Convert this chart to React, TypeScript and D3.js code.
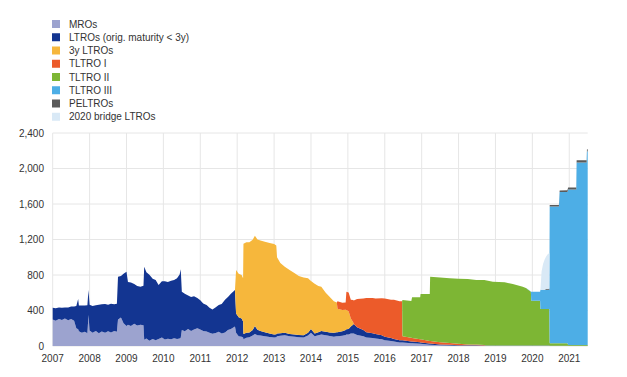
import React from 'react';
import * as d3 from 'd3';

const W = 627;
const H = 377;

const yearTicks = [2007, 2008, 2009, 2010, 2011, 2012, 2013, 2014, 2015, 2016, 2017, 2018, 2019, 2020, 2021];
const yTicks = [0, 400, 800, 1200, 1600, 2000, 2400];

// Segment dates (decimal years)
const datesA = [
  2007.00, 2007.08, 2007.17, 2007.25, 2007.33, 2007.42, 2007.50, 2007.58, 2007.64, 2007.69,
  2007.71, 2007.79, 2007.87, 2007.94, 2007.97, 2008.00, 2008.08, 2008.17, 2008.25, 2008.33,
  2008.42, 2008.50, 2008.58, 2008.67, 2008.74, 2008.77, 2008.85, 2008.92, 2009.00, 2009.04,
  2009.12, 2009.21, 2009.29, 2009.38, 2009.46, 2009.48, 2009.54, 2009.62, 2009.71, 2009.79,
  2009.87, 2009.96, 2010.04, 2010.12, 2010.21, 2010.29, 2010.37, 2010.44, 2010.47, 2010.50,
  2010.58, 2010.67, 2010.75, 2010.83, 2010.92, 2011.00, 2011.08, 2011.17, 2011.25, 2011.33,
  2011.42, 2011.50, 2011.58, 2011.67, 2011.75, 2011.83, 2011.94,
];
const datesB = [
  2011.97, 2012.04, 2012.12, 2012.16, 2012.17, 2012.25, 2012.33, 2012.42, 2012.48, 2012.55,
  2012.63, 2012.75, 2012.88, 2013.00, 2013.06, 2013.08, 2013.17, 2013.29, 2013.42, 2013.56,
  2013.67, 2013.80, 2013.92, 2014.00, 2014.10, 2014.20, 2014.28, 2014.40, 2014.51, 2014.62,
  2014.70,
];
const datesC = [
  2014.72, 2014.85, 2014.94, 2014.96, 2015.02, 2015.08, 2015.14, 2015.16, 2015.25, 2015.42,
  2015.50, 2015.67, 2015.75, 2015.92, 2016.00, 2016.17, 2016.25, 2016.40, 2016.47,
];
const datesD = [
  2016.48, 2016.72, 2016.74, 2016.96, 2016.97, 2017.22, 2017.23, 2017.50, 2017.76, 2018.00,
  2018.25, 2018.48, 2018.70, 2018.73, 2018.93, 2019.25, 2019.47, 2019.74, 2019.84,
];
const datesE = [
  2019.85, 2019.96, 2019.97, 2020.21, 2020.22, 2020.25, 2020.29, 2020.33, 2020.37, 2020.41,
  2020.46, 2020.47, 2020.72, 2020.74, 2020.95, 2020.97, 2021.19, 2021.20, 2021.47, 2021.48,
  2021.50,
];

// EUR billions
const mro = [
  // A
  300, 285, 305, 292, 310, 290, 305, 285, 200, 190,
  165, 150, 160, 145, 350, 175, 150, 168, 145, 162,
  150, 166, 152, 170, 160, 300, 320, 255, 225, 240,
  225, 250, 232, 240, 235, 70, 85, 60, 78, 65,
  80, 95, 72, 82, 75, 88, 78, 85, 92, 180,
  165, 192, 170, 186, 200, 185, 170, 162, 150, 138,
  146, 160, 140, 152, 180, 192, 220,
  // B
  150, 110, 105, 95, 75, 92, 100, 118, 135, 122,
  118, 110, 102, 96, 100, 110, 115, 120, 110, 105,
  100, 95, 118, 150, 110, 120, 130, 120, 112, 105,
  110,
  // C
  110, 115, 125, 130, 130, 140, 140, 142, 125, 110,
  95, 90, 85, 75, 65, 55, 50, 40, 40,
  // D
  40, 32, 30, 25, 25, 15, 15, 8, 5, 3,
  3, 3, 2, 2, 2, 3, 3, 3, 3,
  // E
  3, 2, 2, 2, 2, 2, 2, 2, 2, 2,
  2, 1, 1, 1, 1, 1, 1, 1, 1, 1,
  1,
];
const ltro = [
  // A
  130, 140, 128, 140, 125, 145, 140, 160, 250, 340,
  290, 305, 295, 315, 280, 290, 300, 292, 320, 308,
  322, 300, 325, 300, 315, 480, 470, 560, 612, 480,
  490, 450, 445, 428, 445, 822, 745, 742, 680, 680,
  607, 635, 658, 640, 660, 655, 684, 720, 772, 432,
  425, 378, 382, 374, 340, 330, 310, 300, 282, 272,
  290, 302, 332, 368, 372, 398, 410,
  // B
  217, 215, 205, 180, 60, 58, 52, 62, 90, 60,
  52, 46, 40, 34, 32, 30, 30, 30, 26, 25,
  25, 25, 30, 42, 32, 35, 40, 40, 40, 45,
  45,
  // C
  45, 50, 55, 60, 62, 80, 100, 105, 85, 70,
  60, 55, 50, 45, 40, 35, 30, 25, 25,
  // D
  25, 20, 20, 16, 15, 12, 12, 10, 8, 6,
  5, 5, 4, 4, 4, 4, 3, 3, 3,
  // E
  3, 3, 3, 3, 3, 3, 3, 3, 3, 3,
  3, 1, 1, 1, 1, 1, 1, 1, 1, 1,
  1,
];
const ltro3y = [
  // B
  489, 489, 489, 489, 1018, 1018, 1018, 1018, 1018, 1018,
  1018, 1018, 1018, 1018, 1000, 860, 790, 744, 720, 690,
  665, 652, 614, 540, 560, 520, 498, 440, 400, 355,
  335,
  // C
  265, 240, 228, 216, 200, 90, 30, 0, 0, 0,
  0, 0, 0, 0, 0, 0, 0, 0, 0,
];
const tltro1 = [
  // C
  83, 83, 83, 206, 212, 212, 248, 265, 320, 355,
  385, 395, 400, 418, 430, 432, 440, 440, 438,
  // D
  45, 40, 40, 35, 35, 30, 30, 25, 20, 15,
  10, 8, 5, 0, 0, 0, 0, 0, 0,
];
const tltro2 = [
  // D
  408, 416, 460, 474, 511, 530, 724, 730, 729, 735,
  737, 728, 734, 734, 719, 712, 692, 662, 645,
  // E
  640, 607, 506, 506, 412, 412, 412, 412, 412, 412,
  412, 30, 30, 30, 30, 10, 10, 10, 10, 10,
  10,
];
const tltro3 = [
  3, 3, 101, 101, 216, 216, 216, 216, 216, 216,
  216, 1540, 1540, 1703, 1703, 1750, 1750, 2055, 2055, 2180,
  2180,
];
const peltro = [
  0, 0, 0, 0, 0, 0, 0, 0, 8, 10,
  15, 16, 16, 16, 20, 25, 25, 26, 26, 26,
  26,
];
const bridge = [
  0, 0, 0, 0, 0, 206, 290, 338, 365, 388,
  400, 0, 0, 0, 0, 0, 0, 0, 0, 0,
  0,
];

const allDates = [...datesA, ...datesB, ...datesC, ...datesD, ...datesE];

const seriesDefs = [
  { key: 'mro', label: 'MROs', color: '#9ca3cf', dates: allDates, values: mro },
  { key: 'ltro', label: 'LTROs (orig. maturity < 3y)', color: '#133591', dates: allDates, values: ltro },
  { key: 'ltro3y', label: '3y LTROs', color: '#f6b73c', dates: [...datesB, ...datesC], values: ltro3y },
  { key: 'tltro1', label: 'TLTRO I', color: '#ec5b2a', dates: [...datesC, ...datesD], values: tltro1 },
  { key: 'tltro2', label: 'TLTRO II', color: '#7db634', dates: [...datesD, ...datesE], values: tltro2 },
  { key: 'tltro3', label: 'TLTRO III', color: '#4daee6', dates: datesE, values: tltro3 },
  { key: 'peltro', label: 'PELTROs', color: '#5a5a5a', dates: datesE, values: peltro },
  { key: 'bridge', label: '2020 bridge LTROs', color: '#d9e9f6', dates: datesE, values: bridge },
];

const rows = allDates.map((t) => {
  const r: any = { t };
  seriesDefs.forEach((s) => {
    const i = s.dates.indexOf(t);
    r[s.key] = i >= 0 ? s.values[i] : 0;
  });
  return r;
});

export default function App() {
  const x = d3.scaleLinear().domain([2007, 2021.5]).range([52.7, 587.7]);
  const y = d3.scaleLinear().domain([0, 2400]).range([346, 133]);
  const stack = d3.stack<any>().keys(seriesDefs.map((s) => s.key));
  const stacked = stack(rows);
  const area = d3
    .area<any>()
    .x((d) => x(d.data.t))
    .y0((d) => y(d[0]))
    .y1((d) => y(d[1]))
    .curve(d3.curveLinear);

  const font = "'Liberation Sans', Arial, sans-serif";
  const gridColor = '#e6e6e6';

  return (
    <svg width={W} height={H} style={{ position: 'absolute', left: 0, top: 0, background: '#fff' }} fontFamily={font}>
      {/* legend */}
      {seriesDefs.map((s, i) => (
        <g key={s.key} transform={`translate(0, ${24 + i * 13.25})`}>
          <rect x={52} y={-4} width={8} height={8} fill={s.color} />
          <text x={69} y={3.6} fontSize={10} fill="#333">{s.label}</text>
        </g>
      ))}
      {/* grid */}
      {yTicks.map((v) => (
        <line key={'h' + v} x1={x(2007)} x2={x(2021.5)} y1={y(v)} y2={y(v)} stroke={gridColor} strokeWidth={1} />
      ))}
      {yearTicks.map((yr) => (
        <line key={'v' + yr} x1={x(yr)} x2={x(yr)} y1={y(2400)} y2={y(0)} stroke={gridColor} strokeWidth={1} />
      ))}
      {/* areas */}
      {stacked.map((layer, i) => (
        <path key={layer.key} d={area(layer) || ''} fill={seriesDefs[i].color} stroke="none" />
      ))}
      {/* y labels */}
      {yTicks.map((v) => (
        <text key={'yl' + v} x={44} y={y(v) + 3.6} fontSize={10} fill="#333" textAnchor="end">
          {d3.format(',')(v)}
        </text>
      ))}
      {/* x labels */}
      {yearTicks.map((yr) => (
        <text key={'xl' + yr} x={x(yr)} y={361.5} fontSize={10} fill="#333" textAnchor="middle">
          {yr}
        </text>
      ))}
    </svg>
  );
}
